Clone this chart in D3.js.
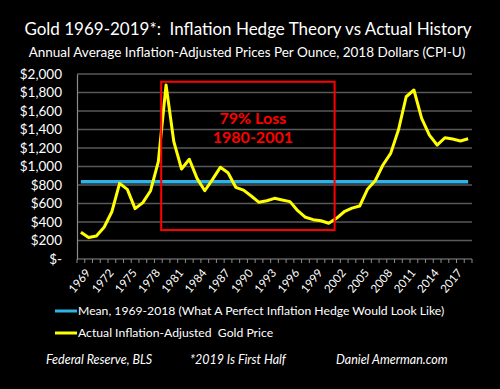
<!DOCTYPE html>
<html>
<head>
<meta charset="utf-8">
<script src="https://cdn.jsdelivr.net/npm/d3@7"></script>
<style>
  body { margin: 0; background: #000; }
  svg text { font-family: Lato, sans-serif; fill: #fff; white-space: pre; }
</style>
</head>
<body>
<div id="chart"></div>
<script>
// years 1969 .. 2019 (2019 = first half)
var years = d3.range(1969, 2020);
var goldPrice = [290, 232, 249, 343, 511, 818, 753, 544, 609, 738,
  1052, 1881, 1268, 973, 1078, 872, 738, 861, 991, 933,
  775, 745, 681, 613, 630, 656, 638, 620, 522, 451,
  425, 414, 386, 440, 511, 550, 573, 753, 846, 1016,
  1142, 1394, 1754, 1827, 1521, 1340, 1232, 1311, 1297, 1276, 1300];
var meanPrice = 835;
var yTicks = [0, 200, 400, 600, 800, 1000, 1200, 1400, 1600, 1800, 2000];
var lossBoxYears = [1980, 2001];
var lossBoxValues = [313, 1916];
var lossText = ["79% Loss", "1980-2001"];
var legendLabels = ["Mean, 1969-2018 (What A Perfect Inflation Hedge Would Look Like)",
  "Actual Inflation-Adjusted  Gold Price"];
var footer = ["Federal Reserve, BLS", "*2019 Is First Half", "Daniel Amerman.com"];

var W = 500, H = 389;

var svg = d3.select('#chart').append('svg')
  .attr('width', W).attr('height', H)
  .style('background', '#000');

svg.append('rect').attr('width', W).attr('height', H).attr('fill', '#000');

let x = d3.scaleBand().domain(years).range([77, 472]);
let y = d3.scaleLinear().domain([0, 2000]).range([259, 74]);
let xc = function(yr){ return x(yr) + x.bandwidth() / 2; };

// titles
svg.append('text').attr('x', 248).attr('y', 35).attr('text-anchor', 'middle')
  .style('font-size', '17px').text('Gold 1969-2019*:  Inflation Hedge Theory vs Actual History');
svg.append('text').attr('x', 247).attr('y', 57).attr('text-anchor', 'middle')
  .style('font-size', '13.5px').text('Annual Average Inflation-Adjusted Prices Per Ounce, 2018 Dollars (CPI-U)');

// grid
svg.append('g').selectAll('line.grid')
  .data(yTicks.filter(function(d){ return d > 0; }))
  .enter().append('line')
  .attr('x1', 77).attr('x2', 472)
  .attr('y1', function(d){ return y(d); }).attr('y2', function(d){ return y(d); })
  .attr('stroke', '#595959').attr('stroke-width', 1.5);

// y axis
let yAxis = svg.append('g').attr('transform', 'translate(77,0)')
  .call(d3.axisLeft(y).tickValues(yTicks).tickSize(0).tickPadding(15)
    .tickFormat(function(d){ return d === 0 ? '$-' : '$' + d3.format(',')(d); }));
yAxis.select('.domain').attr('stroke', '#8c8c8c').attr('stroke-width', 1.2);
yAxis.selectAll('text').style('font-size', '13.5px').attr('fill', '#fff')
  .style('font-family', 'Lato, sans-serif');

// x axis
let xAxis = svg.append('g').attr('transform', 'translate(0,259)');
xAxis.append('line').attr('x1', 77).attr('x2', 472).attr('stroke', '#8c8c8c').attr('stroke-width', 1.2);
xAxis.selectAll('line.tick')
  .data(years.concat([2020]))
  .enter().append('line')
  .attr('x1', function(d){ return d === 2020 ? 472 : x(d); })
  .attr('x2', function(d){ return d === 2020 ? 472 : x(d); })
  .attr('y1', 0).attr('y2', 4)
  .attr('stroke', '#8c8c8c');
xAxis.selectAll('text')
  .data(years.filter(function(d, i){ return i % 3 === 0; }))
  .enter().append('text')
  .attr('transform', function(d){ return 'translate(' + (xc(d) + 4) + ',9) rotate(-50)'; })
  .attr('text-anchor', 'end').attr('dy', '0.7em')
  .style('font-size', '11.5px')
  .text(function(d){ return d; });

// mean line
let line = d3.line()
  .x(function(d){ return xc(d.yr); })
  .y(function(d){ return y(d.val); });

svg.append('path')
  .attr('d', line(years.map(function(yr){ return {yr: yr, val: meanPrice}; })))
  .attr('fill', 'none').attr('stroke', '#2fb2e6').attr('stroke-width', 3.5);

// gold line
svg.append('path')
  .attr('d', line(years.map(function(yr, i){ return {yr: yr, val: goldPrice[i]}; })))
  .attr('fill', 'none').attr('stroke', '#ffff00').attr('stroke-width', 3)
  .attr('stroke-linejoin', 'round');

// loss box
let bx1 = x(lossBoxYears[0]) - 1, bx2 = x(lossBoxYears[1]) + x.bandwidth() + 2;
svg.append('rect')
  .attr('x', bx1).attr('y', y(lossBoxValues[1]))
  .attr('width', bx2 - bx1).attr('height', y(lossBoxValues[0]) - y(lossBoxValues[1]))
  .attr('fill', 'none').attr('stroke', '#ff0000').attr('stroke-width', 2);
svg.selectAll('text.loss')
  .data(lossText).enter().append('text')
  .attr('class', 'loss')
  .attr('x', (bx1 + bx2) / 2 + 5).attr('y', function(d, i){ return 124 + i * 19; })
  .attr('text-anchor', 'middle')
  .style('font-size', '16px').style('font-weight', 'bold').style('fill', '#ff0000')
  .text(function(d){ return d; });

// legend
let legendColors = ['#2fb2e6', '#ffff00'];
let lg = svg.selectAll('g.legend').data(legendLabels).enter().append('g')
  .attr('transform', function(d, i){ return 'translate(55,' + (311 + i * 22) + ')'; });
lg.append('line').attr('x1', 0).attr('x2', 22)
  .attr('stroke', function(d, i){ return legendColors[i]; }).attr('stroke-width', 3);
lg.append('text').attr('x', 23).attr('dy', '0.35em').style('font-size', '12.2px')
  .text(function(d){ return d; });

// footer
let footX = [46, 190, 336];
svg.selectAll('text.foot').data(footer).enter().append('text')
  .attr('x', function(d, i){ return footX[i]; }).attr('y', 364)
  .style('font-size', '12.5px').style('font-style', 'italic')
  .text(function(d){ return d; });
</script>
</body>
</html>
